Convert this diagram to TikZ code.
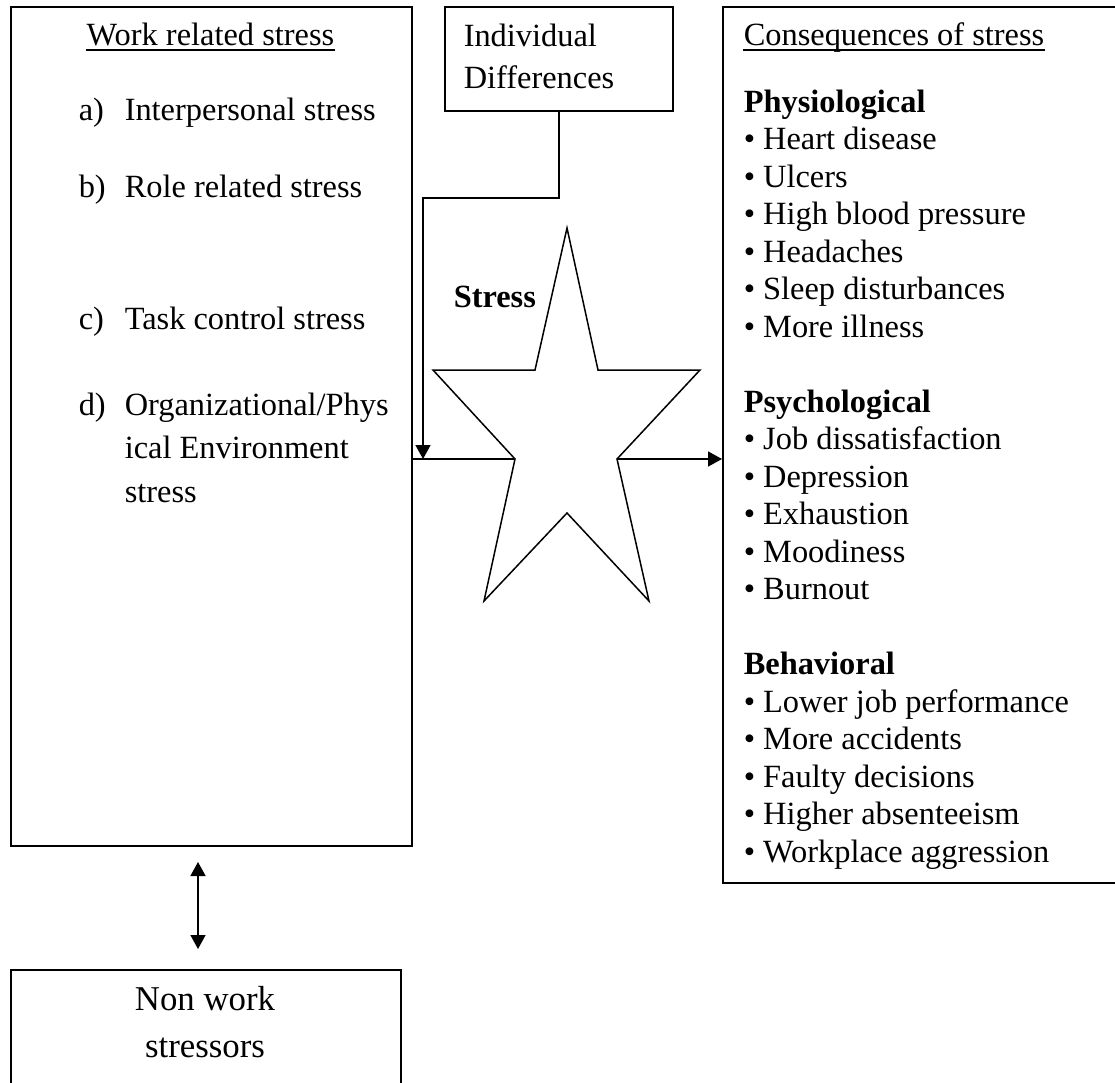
\documentclass[tikz,border=0pt]{standalone}
\usepackage{fontspec}
\setmainfont{Liberation Serif}
\usetikzlibrary{arrows.meta}
\newcommand\bodyfont{\fontsize{32.4}{37.5}\selectfont}
\newcommand\boxfont{\fontsize{34.8}{47}\selectfont}
\begin{document}
\begin{tikzpicture}[x=1pt,y=-1pt,
  line width=1.5pt,
  box/.style={draw, line width=1.5pt, inner sep=0pt, anchor=north west},
  txt/.style={anchor=base west, inner sep=0pt, font=\bodyfont},
  ctxt/.style={anchor=base, inner sep=0pt, font=\bodyfont},
  btxt/.style={anchor=base, inner sep=0pt, font=\boxfont},
  arr/.style={-{Triangle[length=14pt,width=15pt]}},
  darr/.style={{Triangle[length=14pt,width=15pt]}-{Triangle[length=14pt,width=15pt]}}]
\useasboundingbox (0,0) rectangle (1115,1082);
\fill[white] (0,0) rectangle (1115,1082);

% boxes
\node[box, minimum width=401pt, minimum height=839pt] (work) at (10,6) {};
\node[box, minimum width=228pt, minimum height=104pt] (indiv) at (444,6) {};
\node[box, minimum width=420pt, minimum height=876pt] (cons) at (722,6) {};
\node[box, minimum width=390pt, minimum height=140pt] (nonwork) at (10,969) {};

% the stress star
\draw[line join=miter] (567,228) -- (598,370) -- (700,370) -- (617,459)
  -- (649,601) -- (567,513) -- (484,601) -- (515,459) -- (433,370)
  -- (535,370) -- cycle;
\coordinate (starL) at (515,459);
\coordinate (starR) at (617,459);
\node[anchor=base west, inner sep=0pt, font=\bodyfont\bfseries] (stresslbl) at (453,307) {Stress};

% connectors
\draw (starL -| work.east) -- (starL);
\coordinate (bend) at (423,198);
\coordinate (drop) at (423,459);
\draw[arr] (indiv.south) |- (bend) -- (drop);
\draw[arr] (starR) -- (starR -| cons.west);
\coordinate (nwTop) at (198,862);
\coordinate (nwBot) at (198,949);
\draw[darr] (nwTop) -- (nwBot);

% work related stress
\node[ctxt] (wtitle) at (210.5,45) {Work related stress};
\draw ([yshift=-5pt]wtitle.base west) -- ([yshift=-5pt]wtitle.base east);
\node[txt] (la) at (78,120) {a)};
\node[txt] (ta) at (124,120) {Interpersonal stress};
\node[txt] (lb) at (78,197) {b)};
\node[txt] (tb) at (124,197) {Role related stress};
\node[txt] (lc) at (78,329) {c)};
\node[txt] (tc) at (124,329) {Task control stress};
\node[txt] (ld) at (78,415) {d)};
\node[txt] (td1) at (124,415) {Organizational/Phys};
\node[txt] (td2) at (124,458) {ical Environment};
\node[txt] (td3) at (124,502) {stress};

% individual differences
\node[txt] (i1) at (463,46) {Individual};
\node[txt] (i2) at (463,88) {Differences};

% consequences of stress
\node[txt] (ctitle) at (743,45) {Consequences of stress};
\draw ([yshift=-5pt]ctitle.base west) -- ([yshift=-5pt]ctitle.base east);
\foreach \k/\t in {0/{\textbf{Physiological}}, 1/{• Heart disease}, 2/{• Ulcers},
    3/{• High blood pressure}, 4/{• Headaches}, 5/{• Sleep disturbances},
    6/{• More illness}, 8/{\textbf{Psychological}}, 9/{• Job dissatisfaction},
    10/{• Depression}, 11/{• Exhaustion}, 12/{• Moodiness}, 13/{• Burnout},
    15/{\textbf{Behavioral}}, 16/{• Lower job performance}, 17/{• More accidents},
    18/{• Faulty decisions}, 19/{• Higher absenteeism}, 20/{• Workplace aggression}}
  \node[txt] (c\k) at (743,112+37.5*\k) {\t};

% non work stressors
\node[btxt] (n1) at (205,1010) {Non work};
\node[btxt] (n2) at (205,1057) {stressors};
\end{tikzpicture}
\end{document}
